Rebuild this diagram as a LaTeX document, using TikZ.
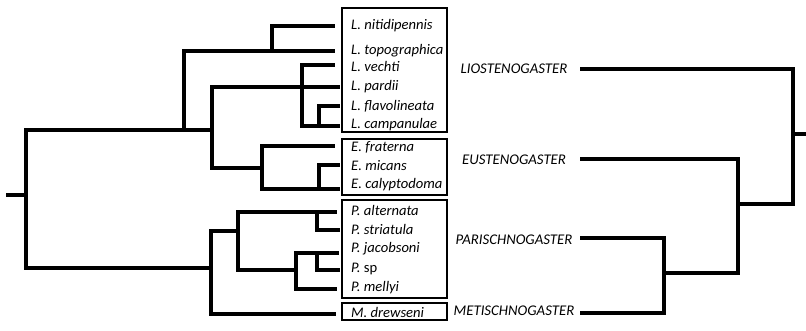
\documentclass[tikz,border=0pt]{standalone}
\usepackage{fontspec}
\setmainfont{Carlito}
\begin{document}
\begin{tikzpicture}[x=1pt,y=-1pt,
  branch/.style={line width=3.1pt,line cap=rect,line join=miter},
  taxonbox/.style={line width=2pt},
  taxon/.style={anchor=west,inner sep=0pt,font=\fontsize{14.6}{16}\selectfont\itshape},
  genus/.style={anchor=center,inner sep=0pt,font=\fontsize{14.8}{16}\selectfont\itshape}]
\useasboundingbox (0,0) rectangle (806,330);

% ---------- species labels ----------
\node[taxon] (nit)  at (351,26)  {L. nitidipennis};
\node[taxon] (topo) at (351,51)  {L. topographica};
\node[taxon] (vec)  at (351,66)  {L. vechti};
\node[taxon] (par)  at (351,87)  {L. pardii};
\node[taxon] (fla)  at (351,106) {L. flavolineata};
\node[taxon] (cam)  at (351,125) {L. campanulae};
\node[taxon] (fra)  at (351,147) {E. fraterna};
\node[taxon] (mic)  at (351,166) {E. micans};
\node[taxon] (cal)  at (351,185) {E. calyptodoma};
\node[taxon] (alt)  at (351,210) {P. alternata};
\node[taxon] (str)  at (351,229) {P. striatula};
\node[taxon] (jac)  at (351,249) {P. jacobsoni};
\node[taxon] (psp)  at (351,269) {P. \upshape sp};
\node[taxon] (mel)  at (351,288) {P. mellyi};
\node[taxon] (drw)  at (351,312) {M. drewseni};

% ---------- group frames ----------
\draw[taxonbox] (342,8)   rectangle (447,132);
\draw[taxonbox] (342,139) rectangle (447,195);
\draw[taxonbox] (342,200) rectangle (447,298);
\draw[taxonbox] (342,303) rectangle (447,320);

% ---------- genus labels ----------
\node[genus] (lio) at (514,69)  {LIOSTENOGASTER};
\node[genus] (eus) at (514,160) {EUSTENOGASTER};
\node[genus] (pis) at (514,240) {PARISCHNOGASTER};
\node[genus] (met) at (514,311) {METISCHNOGASTER};

% ---------- species tree: tips ----------
\coordinate (tnit) at (333,26);
\coordinate (ttopo) at (333,51);
\coordinate (tvec) at (333,65);
\coordinate (tpar) at (338,87);
\coordinate (tfla) at (338,106);
\coordinate (tcam) at (338,126);
\coordinate (tfra) at (333,146);
\coordinate (tmic) at (338,165);
\coordinate (tcal) at (338,189);
\coordinate (talt) at (335,212);
\coordinate (tstr) at (338,230);
\coordinate (tjac) at (337,253);
\coordinate (tpsp) at (338,270);
\coordinate (tmel) at (335,289);
\coordinate (tdrw) at (334,314);

% ---------- species tree: internal nodes ----------
\coordinate (root) at (26,195);
\coordinate (rstub) at (8,195);
\coordinate (nA) at (184,51);
\coordinate (nNT) at (272,26);
\coordinate (nB) at (212,87);
\coordinate (nC) at (302,65);
\coordinate (nD) at (319,106);
\coordinate (nE) at (262,146);
\coordinate (nE2) at (319,165);
\coordinate (nF) at (211,231);
\coordinate (nG) at (238,212);
\coordinate (nH) at (317,212);
\coordinate (nI) at (296,253);
\coordinate (nJ) at (317,253);

% Liostenogaster
\draw[branch] (nNT) -- (tnit);
\draw[branch] (nNT) |- (ttopo);
\draw[branch] (nA) -- (ttopo);
\draw[branch] (nA) |- (212,130);
\draw[branch] (nB) -- (tpar);
\draw[branch] (nB) |- (262,168);
\draw[branch] (nC) -- (tvec);
\draw[branch] (nC) |- (tcam);
\draw[branch] (nD) -- (tfla);
\draw[branch] (nD) |- (tcam);
% Eustenogaster
\draw[branch] (nE) -- (tfra);
\draw[branch] (nE) |- (tcal);
\draw[branch] (nE2) -- (tmic);
\draw[branch] (nE2) |- (tcal);
% root
\draw[branch] (rstub) -- (root);
\draw[branch] (26,130) -- (212,130);
\draw[branch] (26,130) |- (nF |- 0,268);
% Parischnogaster + Metischnogaster
\draw[branch] (nF) |- (tdrw);
\draw[branch] (nF) -- (nG |- nF);
\draw[branch] (nG) -- (talt);
\draw[branch] (nG) |- (nI |- 0,270);
\draw[branch] (nH) |- (tstr);
\draw[branch] (nI) -- (tjac);
\draw[branch] (nI) |- (tmel);
\draw[branch] (nJ) |- (tpsp);

% ---------- genus tree ----------
\coordinate (gL) at (582,69);
\coordinate (gE) at (582,159);
\coordinate (gP) at (582,238);
\coordinate (gM) at (582,313);
\coordinate (gPM) at (664,273);
\coordinate (gEPM) at (738,204);
\coordinate (groot) at (793,134);
\coordinate (gstub) at (806,134);
\draw[branch] (gL) -| (groot |- gEPM) -- (gEPM);
\draw[branch] (groot) -- (gstub);
\draw[branch] (gE) -| (gPM -| gEPM) -- (gPM);
\draw[branch] (gP) -| (gPM |- gM) -- (gM);
\end{tikzpicture}
\end{document}
